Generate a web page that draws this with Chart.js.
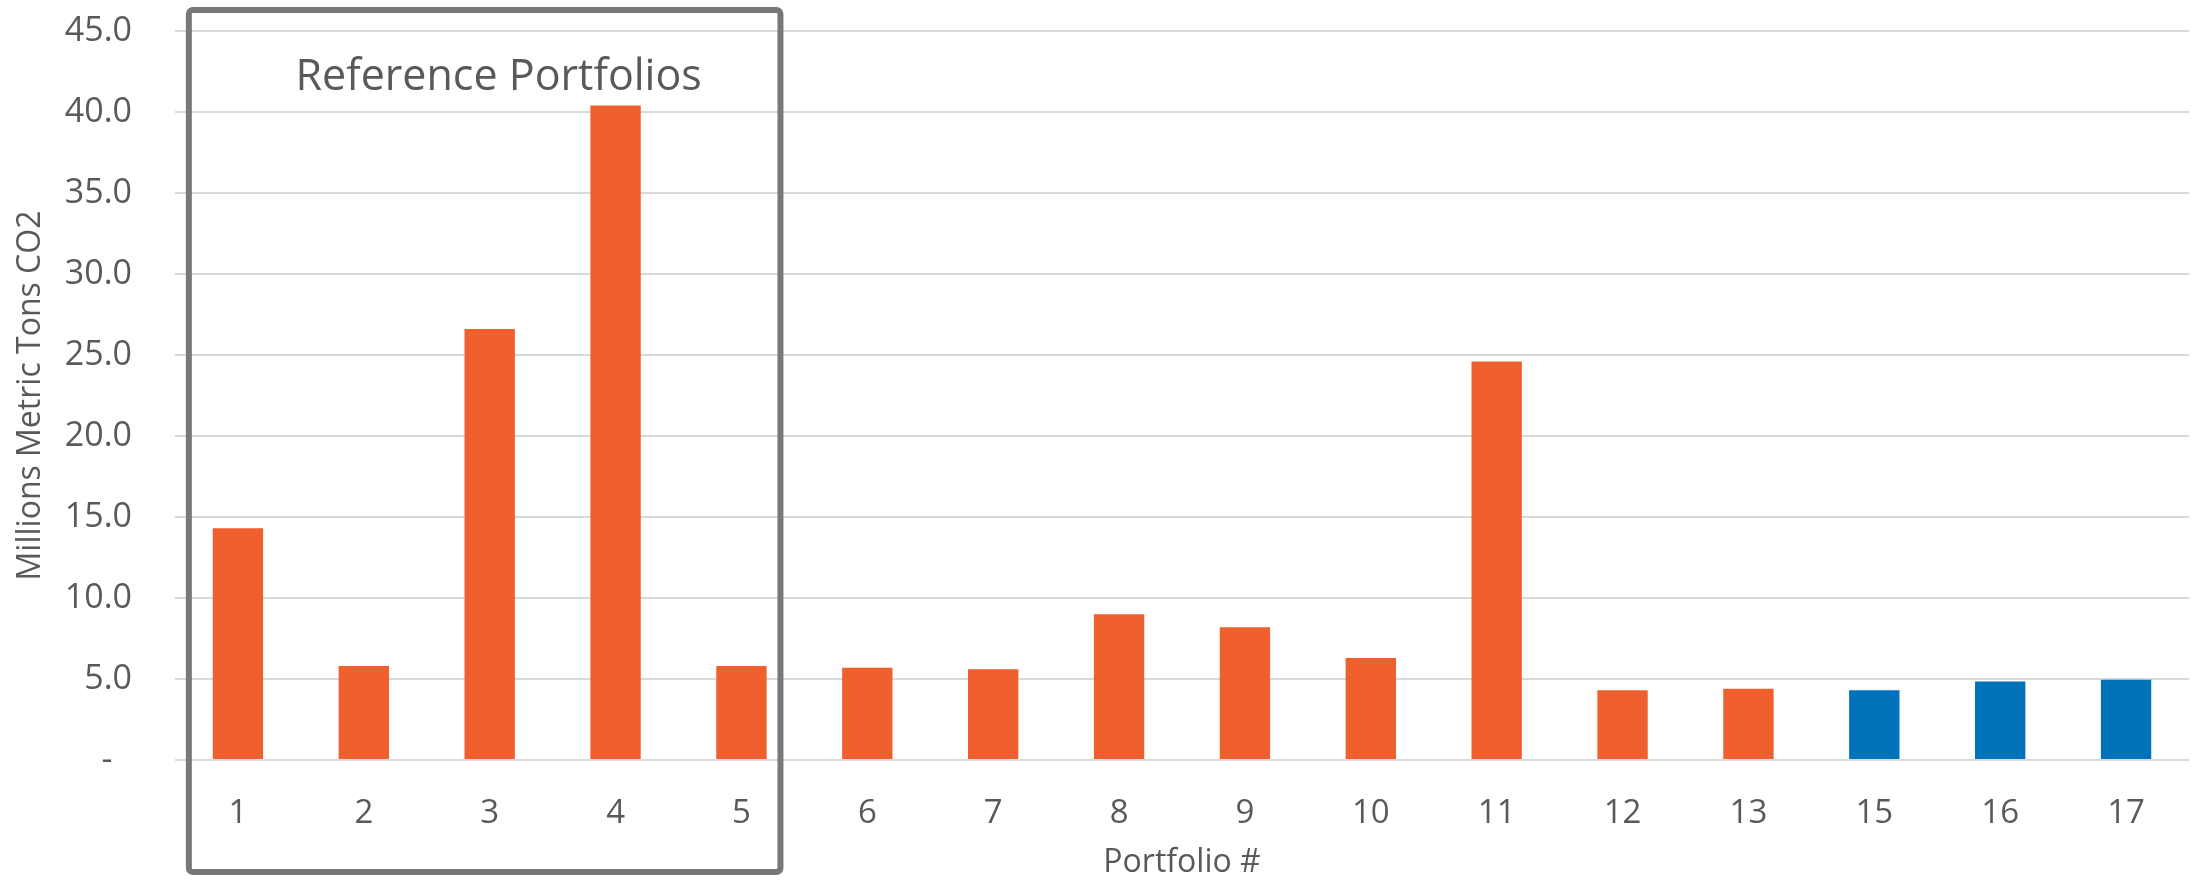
<!DOCTYPE html>
<html>
<head>
<meta charset="utf-8">
<title>Portfolio emissions</title>
<script src="https://cdn.jsdelivr.net/npm/chart.js@4/dist/chart.umd.min.js"></script>
<style>
    html, body { margin: 0; padding: 0; background: #fff; }
    #wrap { width: 2195px; height: 880px; position: relative; }
</style>
</head>
<body>
<div id="wrap"><canvas id="co2Chart"></canvas></div>
<script>
// Portfolio numbers along the x axis (there is no portfolio 14)
const portfolios = ['1', '2', '3', '4', '5', '6', '7', '8', '9', '10', '11', '12', '13', '15', '16', '17'];
// Millions of metric tons CO2 per portfolio
const co2Values = [14.3, 5.8, 26.6, 40.4, 5.8, 5.7, 5.6, 9.0, 8.2, 6.3, 24.6, 4.3, 4.4, 4.3, 4.85, 4.95];
// Portfolios drawn in blue
const bluePortfolios = ['15', '16', '17'];
// Reference portfolios grouped in the box
const referencePortfolios = ['1', '2', '3', '4', '5'];
const yTicks = [0, 5, 10, 15, 20, 25, 30, 35, 40, 45];

const ORANGE = '#F05F2E';
const BLUE = '#0072BA';
const TEXT = '#595959';
const GRID = '#D9D9D9';

// Box around the reference portfolios, with its label
const referenceBox = {
    id: 'referenceBox',
    afterDraw(chart) {
        const x = chart.scales.x;
        const ctx = chart.ctx;
        const first = x.getPixelForValue(portfolios.indexOf(referencePortfolios[0]));
        const last = x.getPixelForValue(portfolios.indexOf(referencePortfolios[referencePortfolios.length - 1]));
        const step = x.getPixelForValue(1) - x.getPixelForValue(0);
        const left = first - step * 0.39;
        const right = last + step * 0.31;
        const top = 10;
        const bottom = 872;

        ctx.save();
        ctx.strokeStyle = '#787878';
        ctx.lineWidth = 6;
        ctx.lineJoin = 'round';
        ctx.beginPath();
        ctx.roundRect(left, top, right - left, bottom - top, 4);
        ctx.stroke();

        ctx.fillStyle = TEXT;
        ctx.font = '43px "Open Sans"';
        ctx.textAlign = 'center';
        ctx.textBaseline = 'alphabetic';
        ctx.fillText('Reference Portfolios', (left + right) / 2 + 14, 90);
        ctx.restore();
    }
};

new Chart(document.getElementById('co2Chart'), {
    type: 'bar',
    data: {
        labels: portfolios,
        datasets: [{
            label: 'Millions Metric Tons CO2',
            data: co2Values,
            backgroundColor: portfolios.map(p => bluePortfolios.includes(p) ? BLUE : ORANGE),
            borderWidth: 0,
            barPercentage: 0.4,
            categoryPercentage: 1.0
        }]
    },
    options: {
        responsive: true,
        maintainAspectRatio: false,
        animation: false,
        layout: { padding: { top: 31, right: 6, left: 0, bottom: 0 } },
        plugins: {
            legend: { display: false },
            tooltip: { enabled: false }
        },
        scales: {
            x: {
                grid: { display: false },
                border: { display: false },
                ticks: {
                    color: TEXT,
                    font: { family: 'Open Sans', size: 33 },
                    padding: 26,
                    maxRotation: 0,
                    autoSkip: false
                },
                title: {
                    display: true,
                    text: 'Portfolio #',
                    color: TEXT,
                    font: { family: 'Open Sans', size: 32, lineHeight: 1.1 },
                    padding: { top: 0, bottom: 0 }
                },
                afterFit(scale) {
                    scale.height = 120;
                    scale.paddingLeft = 0;
                    scale.paddingRight = 0;
                }
            },
            y: {
                min: 0,
                max: 45,
                afterBuildTicks(scale) { scale.ticks = yTicks.map(v => ({ value: v })); },
                grid: { color: GRID, lineWidth: 2, drawTicks: false },
                border: { display: false },
                ticks: {
                    color: TEXT,
                    font: { family: 'Open Sans', size: 34 },
                    padding: 43,
                    // zero shows as a dash, accounting style (figure space keeps it off the right edge)
                    callback: v => v === 0 ? '-\u2007' : v.toFixed(1)
                },
                title: {
                    display: true,
                    text: 'Millions Metric Tons CO2',
                    color: TEXT,
                    font: { family: 'Open Sans', size: 32, lineHeight: 1.2 },
                    padding: { top: 12, bottom: 0 }
                },
                afterFit(scale) {
                    scale.width = 175;
                    scale.paddingTop = 0;
                    scale.paddingBottom = 0;
                }
            }
        }
    },
    plugins: [referenceBox]
});
</script>
</body>
</html>
